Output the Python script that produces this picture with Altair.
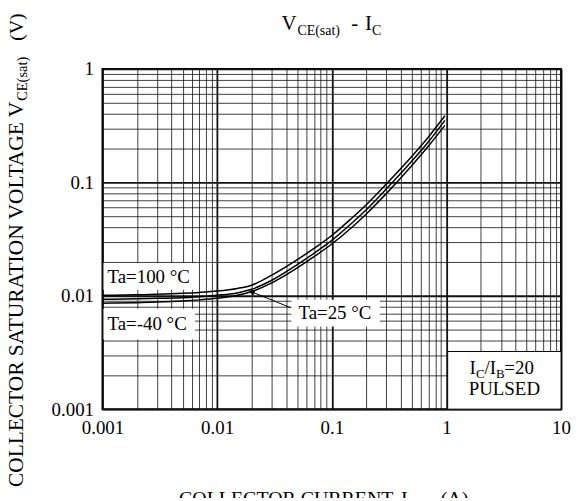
import altair as alt
import pandas as pd

FONT = "Liberation Serif"

# ---- data ----
current = [0.001, 0.002, 0.003, 0.005, 0.007, 0.01, 0.015, 0.02, 0.03, 0.05,
           0.07, 0.1, 0.15, 0.2, 0.3, 0.5, 0.7, 0.97]
v_ta100 = [0.0101, 0.0102, 0.0103, 0.0105, 0.0107, 0.0110, 0.0116, 0.0124, 0.0152, 0.0208,
           0.0262, 0.0340, 0.0485, 0.0635, 0.097, 0.170, 0.253, 0.387]
v_ta25 = [0.0093, 0.0094, 0.0095, 0.0096, 0.0098, 0.0101, 0.0106, 0.0114, 0.0137, 0.0188,
          0.0237, 0.0308, 0.0438, 0.0573, 0.0877, 0.154, 0.229, 0.352]
v_tam40 = [0.0086, 0.0087, 0.0088, 0.0090, 0.0092, 0.0095, 0.0101, 0.0109, 0.0130, 0.0176,
           0.0221, 0.0286, 0.0402, 0.0527, 0.0800, 0.141, 0.210, 0.318]

x_decades = [0.001, 0.01, 0.1, 1]
y_decades = [0.001, 0.01, 0.1]
mult = [1, 2, 3, 4, 5, 6, 7, 8, 9]
x_grid = [round(d * m, 6) for d in x_decades for m in mult] + [10]
y_grid = [round(d * m, 6) for d in y_decades for m in mult] + [1]

# arrow for the Ta=25 label (data coordinates)
arrow_tail = (0.0437, 0.00785)
arrow_tip = (0.0200, 0.01084)

rows = []
for name, vals in [("100", v_ta100), ("25", v_ta25), ("-40", v_tam40)]:
    for i, v in zip(current, vals):
        rows.append({"I": i, "V": v, "Ta": name})
df = pd.DataFrame(rows)

arrow_df = pd.DataFrame({"x0": [arrow_tail[0]], "y0": [arrow_tail[1]],
                         "x1": [arrow_tip[0]], "y1": [arrow_tip[1]]})
one = pd.DataFrame({"a": [0]})

TEST = "abs(log(datum.value)/LN10 - round(log(datum.value)/LN10)) < 0.01"
LABEL = f"({TEST}) ? format(datum.value, '~g') : ''"

xscale = alt.Scale(type="log", domain=[0.001, 10], nice=False)
yscale = alt.Scale(type="log", domain=[0.001, 1], nice=False)

common_axis = dict(
    title=None, labelExpr=LABEL, grid=True, gridColor="#111",
    gridWidth={"condition": {"test": TEST, "value": 1.8}, "value": 0.8},
    ticks=False, domain=False, labelFont=FONT, labelFontSize=19,
    labelColor="black", labelPadding=9, labelOverlap=False,
    labelFlush=False, labelBound=False,
)
xaxis = alt.Axis(values=x_grid, **common_axis)
yaxis = alt.Axis(values=y_grid, **common_axis)

lines = alt.Chart(df).mark_line(interpolate="monotone", color="black", strokeWidth=1.5).encode(
    x=alt.X("I:Q", scale=xscale, axis=xaxis),
    y=alt.Y("V:Q", scale=yscale, axis=yaxis),
    detail="Ta:N",
)


def box(x, x2, y, y2, stroke=None):
    kw = dict(fill="white")
    if stroke:
        kw.update(stroke=stroke, strokeWidth=1)
    return alt.Chart(one).mark_rect(**kw).encode(
        x=alt.value(x), x2=alt.value(x2), y=alt.value(y), y2=alt.value(y2))


def txt(s, x, y, size, align="left", baseline="alphabetic", angle=None):
    kw = dict(text=s, font=FONT, fontSize=size, align=align, baseline=baseline, color="black")
    if angle is not None:
        kw["angle"] = angle
    return alt.Chart(one).mark_text(**kw).encode(x=alt.value(x), y=alt.value(y))


boxes = [
    box(1, 93, 195, 222),       # Ta=100
    box(1, 93, 241, 272),       # Ta=-40
    box(190, 279, 232, 259),    # Ta=25
    box(347, 461, 284, 342, stroke="black"),  # Ic/Ib
]

arrow_line = alt.Chart(arrow_df).mark_rule(color="black", strokeWidth=1).encode(
    x=alt.X("x0:Q", scale=xscale), x2="x1:Q",
    y=alt.Y("y0:Q", scale=yscale), y2="y1:Q",
)
arrow_head = alt.Chart(arrow_df).mark_point(
    shape="triangle-left", angle=22, filled=True, size=45, color="black", opacity=1
).encode(x=alt.X("x1:Q", scale=xscale), y=alt.Y("y1:Q", scale=yscale))

texts = [
    # curve labels
    txt("Ta=100 °C", 5, 209, 19, baseline="middle"),
    txt("Ta=-40 °C", 5, 256, 19, baseline="middle"),
    txt("Ta=25 °C", 197, 245, 19, baseline="middle"),
    # Ic/Ib=20 PULSED
    txt("I", 369, 307, 19),
    txt("C", 375.5, 311, 13),
    txt("/I", 384, 307, 19),
    txt("B", 395.5, 311, 13),
    txt("=20", 404, 307, 19),
    txt("PULSED", 404, 328, 19, align="center"),
    # title
    txt("V", 180, -39, 21),
    txt("CE(sat)", 196, -34, 14),
    txt("-", 250, -39, 21),
    txt("I", 264, -39, 21),
    txt("C", 271, -34, 14),
    # y axis title (rotated)
    txt("COLLECTOR SATURATION VOLTAGE V", -80, 33, 21.5, align="right", angle=270),
    txt("CE(sat)", -76, 32, 14.5, align="left", angle=270),
    txt("(V)", -80, -56, 20, align="right", angle=270),
    # x axis title
    txt("COLLECTOR CURRENT", 77, 438, 20),
    txt("I", 300, 438, 20),
    txt("C", 308, 443, 13),
    txt("(A)", 340, 438, 20),
]

chart = alt.layer(lines, *boxes, arrow_line, arrow_head, *texts).properties(
    width=461, height=342,
    autosize=alt.AutoSizeParams(type="none"),
    padding={"left": 95, "top": 60, "right": 10, "bottom": 88},
    background="white",
).configure_view(stroke="black", strokeWidth=2)

chart.save("out.html", embed_options={"renderer": "svg", "actions": False})
